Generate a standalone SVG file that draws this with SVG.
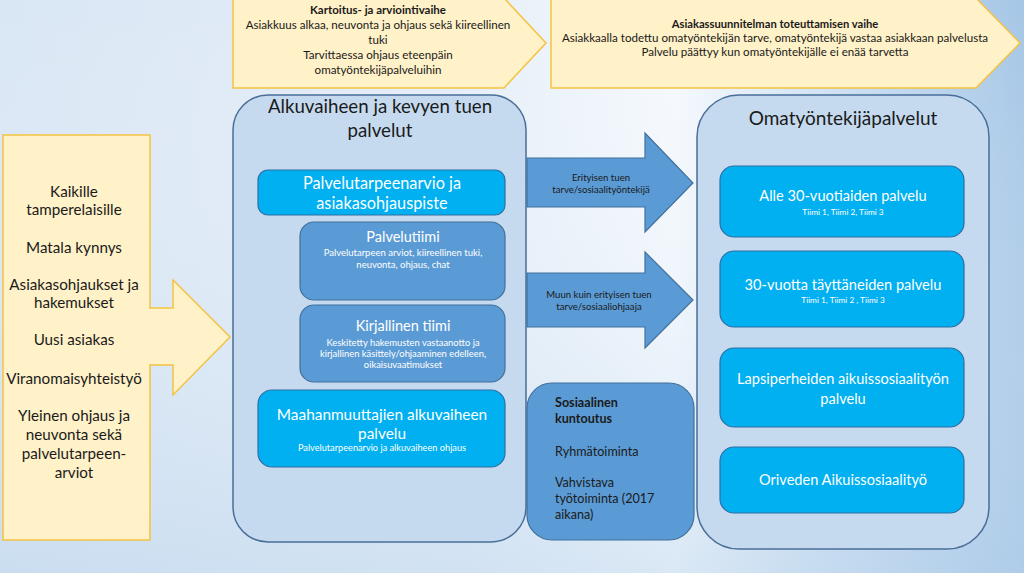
<svg xmlns="http://www.w3.org/2000/svg" width="1024" height="573" viewBox="0 0 1024 573">
<defs>
<linearGradient id="bg" x1="0" y1="0" x2="1" y2="0">
<stop offset="0" stop-color="#d9e6f4"/>
<stop offset="0.45" stop-color="#e5eef8"/>
<stop offset="0.66" stop-color="#f5f9fd"/>
<stop offset="0.8" stop-color="#d0e2f3"/>
<stop offset="1" stop-color="#a5c6e6"/>
</linearGradient>
<linearGradient id="bgv" x1="0" y1="0" x2="0" y2="1">
<stop offset="0" stop-color="#ffffff" stop-opacity="0"/>
<stop offset="1" stop-color="#b9d3ec" stop-opacity="0.45"/>
</linearGradient>
<style>
.t{font-family:Lato,"Liberation Sans",sans-serif;fill:#1a1a1a;text-anchor:middle}
.w{font-family:Lato,"Liberation Sans",sans-serif;fill:#ffffff;text-anchor:middle}
.l{font-family:Lato,"Liberation Sans",sans-serif;fill:#1a1a1a;text-anchor:start}
.callout{fill:#fff1c8;stroke:#f5c242;stroke-width:1.5}
.panel{fill:#c5daef;stroke:#4a6e98;stroke-width:1.5}
.bright{fill:#00b0f0;stroke:#2f6ea6;stroke-width:1.2}
.mid{fill:#5b9bd5;stroke:#41719c;stroke-width:1.2}
.b{font-weight:bold}
</style>
</defs>
<rect width="1024" height="573" fill="url(#bg)"/>
<rect width="1024" height="573" fill="url(#bgv)"/>

<g id="callout-kartoitus">
<path class="callout" d="M233,-2 H504 L546,43 L504,88 H233 Z"/>
<text class="t b" x="378" y="14" font-size="11.5">Kartoitus- ja arviointivaihe</text>
<text class="t" x="378" y="29" font-size="11.6">Asiakkuus alkaa, neuvonta ja ohjaus sekä kiireellinen</text>
<text class="t" x="378" y="44" font-size="11.6">tuki</text>
<text class="t" x="378" y="59" font-size="11.6">Tarvittaessa ohjaus eteenpäin</text>
<text class="t" x="378" y="74" font-size="11.6">omatyöntekijäpalveluihin</text>
</g>

<g id="callout-toteutus">
<path class="callout" d="M551,-2 H976 L1020,43 L976,88 H551 Z"/>
<text class="t b" x="775" y="28" font-size="11.2">Asiakassuunnitelman toteuttamisen vaihe</text>
<text class="t" x="775" y="42" font-size="11.6">Asiakkaalla todettu omatyöntekijän tarve, omatyöntekijä vastaa asiakkaan palvelusta</text>
<text class="t" x="775" y="56" font-size="11.6">Palvelu päättyy kun omatyöntekijälle ei enää tarvetta</text>
</g>

<g id="left-arrow">
<path class="callout" d="M3,135 H150 V308 H173 V280 L230,337 L173,395 V365 H150 V540 H3 Z"/>
<g font-size="15.2">
<text class="t" x="74" y="197">Kaikille</text>
<text class="t" x="74" y="215">tamperelaisille</text>
<text class="t" x="74" y="253">Matala kynnys</text>
<text class="t" x="74" y="290">Asiakasohjaukset ja</text>
<text class="t" x="74" y="308">hakemukset</text>
<text class="t" x="74" y="345">Uusi asiakas</text>
<text class="t" x="74" y="384">Viranomaisyhteistyö</text>
<text class="t" x="74" y="421">Yleinen ohjaus ja</text>
<text class="t" x="74" y="440">neuvonta sekä</text>
<text class="t" x="74" y="459">palvelutarpeen-</text>
<text class="t" x="74" y="478">arviot</text>
</g>
</g>

<g id="panel-alkuvaihe">
<rect class="panel" x="233" y="95" width="293" height="447" rx="35"/>
<text class="t" x="380" y="113" font-size="18.7">Alkuvaiheen ja kevyen tuen</text>
<text class="t" x="380" y="137" font-size="18.7">palvelut</text>
</g>

<g id="node-palvelutarpeenarvio">
<rect class="bright" x="258" y="170" width="247" height="45" rx="10"/>
<text class="w" x="382" y="189" font-size="16.3">Palvelutarpeenarvio ja</text>
<text class="w" x="382" y="209" font-size="16.3">asiakasohjauspiste</text>
</g>

<g id="node-palvelutiimi">
<rect class="mid" x="300" y="222" width="205" height="78" rx="14"/>
<text class="w" x="403" y="242" font-size="14.5">Palvelutiimi</text>
<text class="w" x="403" y="256" font-size="9.5">Palvelutarpeen arviot, kiireellinen tuki,</text>
<text class="w" x="403" y="268" font-size="9.5">neuvonta, ohjaus, chat</text>
</g>

<g id="node-kirjallinen">
<rect class="mid" x="300" y="305" width="205" height="77" rx="14"/>
<text class="w" x="403" y="331" font-size="14.5">Kirjallinen tiimi</text>
<text class="w" x="403" y="346" font-size="9.4">Keskitetty hakemusten vastaanotto ja</text>
<text class="w" x="403" y="357" font-size="9.4">kirjallinen käsittely/ohjaaminen edelleen,</text>
<text class="w" x="403" y="368" font-size="9.4">oikaisuvaatimukset</text>
</g>

<g id="node-maahanmuuttajat">
<rect class="bright" x="258" y="390" width="247" height="77" rx="14"/>
<text class="w" x="382" y="420" font-size="15.4">Maahanmuuttajien alkuvaiheen</text>
<text class="w" x="382" y="439" font-size="15.4">palvelu</text>
<text class="w" x="382" y="451" font-size="9.2">Palvelutarpeenarvio ja alkuvaiheen ohjaus</text>
</g>

<g id="connectors">
<path class="mid" d="M527,158 H645 V133 L693,183 L645,232 V207 H527 Z"/>
<text class="t" x="601" y="181" font-size="9.6">Erityisen tuen</text>
<text class="t" x="601" y="193" font-size="9.6">tarve/sosiaalityöntekijä</text>
<path class="mid" d="M527,273 H645 V252 L693,300 L645,348 V327 H527 Z"/>
<text class="t" x="599" y="298" font-size="9.6">Muun kuin erityisen tuen</text>
<text class="t" x="599" y="310" font-size="9.6">tarve/sosiaaliohjaaja</text>
</g>

<g id="node-sosiaalinen-kuntoutus">
<rect class="mid" x="527" y="383" width="167" height="157" rx="25"/>
<g font-size="12.6">
<text class="l b" x="555" y="407">Sosiaalinen</text>
<text class="l b" x="555" y="423">kuntoutus</text>
<text class="l" x="555" y="456">Ryhmätoiminta</text>
<text class="l" x="555" y="487">Vahvistava</text>
<text class="l" x="555" y="503">työtoiminta (2017</text>
<text class="l" x="555" y="519">aikana)</text>
</g>
</g>

<g id="panel-omatyontekija">
<rect class="panel" x="697" y="95" width="292" height="454" rx="42"/>
<text class="t" x="843" y="125" font-size="19">Omatyöntekijäpalvelut</text>
</g>

<g id="node-alle30">
<rect class="bright" x="720" y="166" width="244" height="71" rx="14"/>
<text class="w" x="843" y="201" font-size="14.6">Alle 30-vuotiaiden palvelu</text>
<text class="w" x="843" y="215" font-size="8.3">Tiimi 1, Tiimi 2, Tiimi 3</text>
</g>

<g id="node-yli30">
<rect class="bright" x="720" y="251" width="244" height="76" rx="14"/>
<text class="w" x="843" y="290" font-size="14.6">30-vuotta täyttäneiden palvelu</text>
<text class="w" x="843" y="303" font-size="8.3">Tiimi 1, Tiimi 2 , Tiimi 3</text>
</g>

<g id="node-lapsiperheet">
<rect class="bright" x="720" y="348" width="244" height="79" rx="14"/>
<text class="w" x="843" y="384" font-size="14.6">Lapsiperheiden aikuissosiaalityön</text>
<text class="w" x="843" y="404" font-size="14.6">palvelu</text>
</g>

<g id="node-orivesi">
<rect class="bright" x="720" y="447" width="244" height="66" rx="14"/>
<text class="w" x="843" y="485" font-size="14.6">Oriveden Aikuissosiaalityö</text>
</g>
</svg>
